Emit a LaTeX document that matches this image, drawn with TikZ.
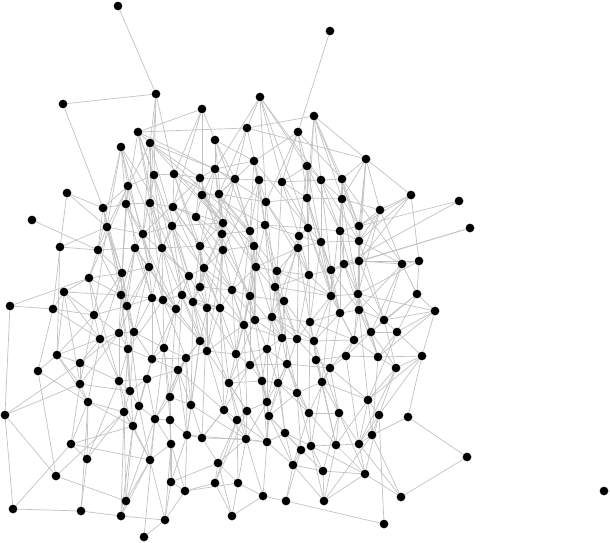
\documentclass[tikz,border=0pt]{standalone}
\usepackage{tikz}
\usetikzlibrary{backgrounds}

\begin{document}
\begin{tikzpicture}[%
  x=1pt, y=-1pt,
  vertex/.style={circle, fill=black, inner sep=0pt, minimum size=8.7pt},
  edge/.style={draw=black!24, line width=0.7pt},
]
  \useasboundingbox (0,0) rectangle (610,543);

  % vertices
  \foreach \n/\x/\y in {1/118/6, 2/330/31, 3/156/94, 4/63/104, 5/202/109, 6/260/97,
    7/314/116, 8/138/132, 9/247/128, 10/298/132, 11/150/143, 12/121/147, 13/215/140,
    14/366/159, 15/254/161, 16/307/166, 17/215/169, 18/154/175, 19/174/174, 20/200/178,
    21/235/179, 22/259/180, 23/282/182, 24/321/180, 25/342/179, 26/128/186, 27/67/193,
    28/103/208, 29/126/204, 30/150/203, 31/173/207, 32/196/217, 33/202/195, 34/219/194,
    35/266/202, 36/307/198, 37/342/199, 38/380/210, 39/32/220, 40/107/227, 41/143/234,
    42/172/226, 43/223/223, 44/222/234, 45/250/231, 46/265/225, 47/308/228, 48/299/236,
    49/340/231, 50/359/226, 51/321/242, 52/298/248, 53/359/241, 54/60/247, 55/98/250,
    56/135/248, 57/162/248, 58/200/246, 59/223/250, 60/254/246, 61/149/267, 62/122/273,
    63/189/276, 64/204/268, 65/89/278, 66/256/267, 67/277/271, 68/331/270, 69/309/275,
    70/344/264, 71/359/261, 72/402/264, 73/419/261, 74/411/195, 75/459/201, 76/470/228,
    77/200/287, 78/64/292, 79/121/295, 80/152/298, 81/163/300, 82/182/295, 83/193/302,
    84/232/290, 85/275/287, 86/250/296, 87/331/296, 88/358/294, 89/417/294, 90/284/301,
    91/127/306, 92/176/309, 93/10/306, 94/53/309, 95/94/315, 96/207/308, 97/220/308,
    98/340/313, 99/359/310, 100/435/311, 101/384/320, 102/244/325, 103/255/320,
    104/272/317, 105/310/322, 106/119/333, 107/134/332, 108/100/339, 109/200/341,
    110/371/332, 111/397/332, 112/282/338, 113/297/339, 114/314/341, 115/354/340,
    116/128/349, 117/164/348, 118/207/351, 119/236/354, 120/267/349, 121/57/355,
    122/152/359, 123/186/358, 124/316/360, 125/346/356, 126/378/357, 127/422/356,
    128/80/363, 129/38/371, 130/178/370, 131/119/381, 132/147/379, 133/80/384,
    134/130/391, 135/170/397, 136/88/402, 137/139/406, 138/191/405, 139/5/415,
    140/124/412, 141/155/419, 142/170/420, 143/133/426, 144/187/435, 145/202/438,
    146/171/444, 147/71/444, 148/87/459, 149/150/460, 150/56/476, 151/171/482,
    152/185/491, 153/126/501, 154/13/509, 155/81/511, 156/121/516, 157/165/520,
    158/144/537, 159/250/365, 160/287/364, 161/330/368, 162/396/368, 163/229/383,
    164/262/381, 165/278/383, 166/297/393, 167/322/382, 168/368/400, 169/267/402,
    170/224/410, 171/247/411, 172/237/420, 173/269/416, 174/309/413, 175/339/413,
    176/379/415, 177/246/439, 178/267/442, 179/285/433, 180/301/450, 181/311/446,
    182/336/445, 183/359/444, 184/372/435, 185/218/463, 186/293/465, 187/323/471,
    188/365/474, 189/215/483, 190/238/483, 191/263/496, 192/286/501, 193/324/501,
    194/401/497, 195/232/516, 196/384/524, 197/408/417, 198/467/457, 199/604/491}
    \node[vertex] (v\n) at (\x,\y) {};

  % edges
  \begin{scope}[on background layer]
  \foreach \a/\b in {1/3, 2/10, 3/4, 3/19, 3/18, 4/28, 5/8, 5/13, 5/31, 6/9, 6/16,
    6/17, 6/24, 7/9, 7/14, 7/24, 7/25, 7/37, 8/11, 8/21, 8/29, 8/18, 9/14, 9/21, 9/22,
    9/8, 10/15, 10/16, 10/23, 10/36, 11/20, 11/30, 11/43, 11/17, 12/26, 12/29, 12/42,
    12/40, 13/15, 13/17, 13/21, 14/38, 14/50, 14/74, 14/25, 15/17, 15/22, 15/34, 15/47,
    16/23, 16/24, 16/36, 16/48, 17/20, 17/33, 17/35, 18/19, 18/26, 18/30, 18/41, 19/20,
    19/31, 19/43, 19/46, 20/21, 20/32, 20/44, 21/22, 21/34, 21/45, 22/23, 22/35, 22/46,
    23/24, 23/47, 23/36, 24/25, 24/37, 24/49, 25/37, 25/50, 25/53,
    26/28, 26/29, 26/41, 26/56, 27/28, 27/40, 28/29, 28/40, 28/55, 29/30, 29/41, 29/62,
    30/31, 30/42, 30/57, 31/32, 31/43, 31/58, 32/33, 32/44, 32/59, 33/34, 33/43, 33/60,
    34/35, 34/45, 34/44, 35/36, 35/46, 35/52, 36/37, 36/47, 36/51, 37/38, 37/49, 37/50,
    38/50, 38/53, 38/72, 38/74, 39/55, 40/41, 40/55, 40/54, 40/62, 41/42, 41/56, 41/61,
    42/43, 42/57, 42/63, 43/44, 43/58, 44/45, 44/59, 44/64, 45/46, 45/60, 45/66, 46/47,
    46/48, 46/67, 47/48, 47/49, 47/51, 48/51, 48/52, 48/69, 49/50, 49/53, 49/70, 50/53,
    50/71, 51/52, 51/68, 51/53, 52/66, 52/69, 52/67, 53/71, 53/72, 54/55, 54/94, 54/121,
    55/56, 55/65, 55/62, 56/57, 56/61, 56/79, 57/58, 57/63, 57/80, 58/59, 58/64, 58/77,
    59/60, 59/84, 59/64, 60/66, 60/86,
    61/62, 61/80, 61/91, 62/65, 62/79, 62/91, 63/64, 63/82, 63/81, 64/77, 64/84, 65/78,
    65/95, 66/67, 66/86, 66/84, 67/85, 67/90, 67/69, 68/69, 68/70, 68/87, 68/76, 69/85,
    69/87, 70/71, 70/75, 70/88, 71/72, 71/88, 71/73, 72/73, 72/89, 72/101, 73/74, 73/89,
    74/50, 77/83, 77/96, 77/84, 78/79, 78/95, 78/94, 78/108, 79/80, 79/91, 79/106,
    80/81, 80/92, 80/91, 81/82, 81/92, 81/117, 82/83, 82/92, 83/96, 83/97, 83/109,
    84/86, 84/97, 84/102, 85/90, 85/87, 85/104, 86/90, 86/102, 86/103, 87/88, 87/98,
    87/105, 88/99, 88/101, 88/98, 89/100, 89/101, 90/104, 90/113, 91/107, 91/95,
    92/117, 92/109, 93/65, 93/139, 93/94, 94/95, 94/129, 95/108, 95/106, 96/97, 96/109,
    96/118, 97/102, 97/118, 98/99, 98/105, 98/115, 99/101, 99/110, 100/127, 100/111,
    100/101,
    101/110, 101/111, 102/103, 102/119, 102/112, 103/104, 103/120, 104/105, 104/112,
    104/113, 105/114, 105/113, 106/107, 106/116, 106/108, 107/116, 107/117, 108/116,
    108/128, 109/118, 109/123, 110/111, 110/115, 110/126, 111/127, 111/126, 112/113,
    112/120, 112/160, 113/114, 113/124, 114/115, 114/124, 115/125, 115/126, 116/122,
    116/131, 117/122, 117/123, 118/119, 118/123, 119/120, 119/159, 119/163, 120/159,
    120/160, 121/128, 121/129, 121/133, 122/123, 122/132, 122/130, 123/130, 123/138,
    124/125, 124/161, 124/167, 125/126, 125/161, 126/162, 126/127, 127/162, 127/197,
    128/133, 128/131, 129/150, 130/135, 130/138, 130/132, 131/132, 131/134, 131/140,
    132/134, 132/137, 133/136, 133/134, 134/137, 134/140, 135/141, 135/142, 135/138,
    136/140, 136/147, 136/143, 137/141, 137/143, 138/144, 138/145, 139/133, 139/150,
    139/154, 139/128, 140/143, 140/149, 141/142, 141/149, 142/144, 142/146, 143/153,
    143/149, 144/145, 144/151, 145/185, 145/170, 146/151, 146/149, 147/148, 147/154,
    147/149, 147/143, 148/155, 148/140, 149/157, 149/153, 150/153, 150/140, 151/152,
    151/157, 152/189, 152/157, 153/156, 154/155, 155/156, 155/136, 156/157, 156/140,
    157/158, 158/141,
    159/160, 159/163, 159/164, 160/161, 160/165, 160/166, 161/167, 161/168, 162/168,
    162/176, 163/164, 163/170, 163/171, 164/165, 164/169, 165/166, 165/173, 166/167,
    166/174, 166/173, 167/168, 167/175, 168/176, 168/184, 169/171, 169/173, 169/177,
    170/172, 170/145, 171/172, 171/177, 172/185, 172/178, 173/179, 173/178, 174/175,
    174/181, 175/182, 175/183, 176/183, 176/184, 176/196, 177/178, 177/190, 178/179,
    178/186, 179/180, 179/181, 180/181, 180/186, 181/182, 181/187, 182/183, 182/188,
    183/184, 183/188, 184/197, 184/193, 185/189, 185/190, 186/187, 186/192, 187/193,
    187/188, 188/194, 189/195, 190/191, 190/195, 191/192, 191/195, 192/196, 193/188,
    194/198, 197/198,
    12/61, 28/91, 40/79, 29/80, 56/106, 30/81, 57/92, 42/83, 44/96, 45/103, 46/85,
    48/90, 47/87, 49/88, 51/98, 53/99, 37/70, 36/68, 16/51, 22/59, 21/58, 13/43, 17/44,
    20/41, 11/26, 62/107, 79/116, 80/117, 81/109, 82/97, 84/119, 86/112, 90/114, 87/115,
    69/105, 85/113, 99/126, 105/124, 104/164, 103/163, 102/169, 97/170, 96/145, 109/144,
    117/142, 116/140, 107/134, 106/131, 95/133, 108/136, 91/137, 92/135, 83/138,
    113/166, 114/167, 115/161, 110/162, 120/165, 118/171, 123/141, 122/143, 131/148,
    130/170, 138/177, 144/178, 145/177, 146/152, 141/153, 135/151, 163/177, 164/178,
    165/179, 166/180, 167/181, 160/174, 161/175, 168/182, 174/186, 175/187, 171/189,
    172/190, 173/186, 177/191, 180/192, 181/193, 182/193, 183/194, 184/194, 59/86,
    60/85, 58/96, 63/92, 64/83, 66/90, 67/104, 68/98, 71/99, 72/110, 89/111, 70/87,
    88/110,
    8/57, 11/63, 18/82, 19/64, 26/62, 29/79, 30/61, 31/84, 33/66, 34/67, 35/85, 36/69,
    37/87, 24/51, 23/48, 50/99, 53/101, 38/88, 74/71, 42/102, 43/103, 45/119, 46/104,
    59/118, 57/109, 56/92, 61/106, 62/108, 65/131, 78/133, 79/134, 80/122, 81/123,
    82/130, 83/163, 84/164, 85/166, 86/159, 87/167, 88/126, 98/161, 99/168, 101/162,
    105/174, 112/169, 113/173, 114/175, 118/170, 119/177, 120/178, 123/144, 124/182,
    125/183, 126/184, 116/143, 117/141, 109/138, 97/163, 102/171, 103/173, 104/179,
    90/160, 67/112, 66/103, 60/102, 52/105, 51/87, 47/98, 48/113, 22/45, 21/44, 20/57,
    17/58, 15/46, 10/35, 9/34, 6/35, 7/36, 16/49, 25/49, 14/53,
    3/30, 3/11, 12/57, 8/42, 11/45, 13/45, 5/33, 5/19, 6/23, 6/47, 7/47, 7/50, 10/25,
    14/37, 14/71, 24/53, 25/72, 38/71, 74/53, 75/50, 76/71, 73/88, 72/99, 89/110,
    100/88, 100/126, 127/176, 127/168, 111/168, 26/65, 28/62, 40/95, 40/91, 27/54,
    41/81, 41/63, 42/82, 43/77, 44/97, 45/84, 46/86, 47/69, 48/85, 49/98, 50/88,
    51/105, 52/104, 53/88, 56/91, 57/81, 58/83, 59/97, 60/103, 61/107, 63/96, 64/97,
    66/104, 67/87, 68/99, 69/113, 70/99, 71/101, 79/107, 80/107, 81/116, 82/118,
    83/118, 84/103, 85/112, 86/119, 87/114, 88/115, 90/112, 92/122, 96/119, 97/119,
    98/114, 99/115, 102/118, 103/112, 104/114, 105/115, 106/128, 107/122, 108/131,
    109/130, 110/125, 29/92, 30/83, 31/97, 32/84, 33/86, 34/66, 35/69, 36/87, 37/88,
    18/57, 19/58, 20/59, 21/60, 22/66, 23/67, 24/68, 15/45, 16/47, 17/43, 12/55, 26/40,
    11/41, 8/30, 116/134, 117/135, 122/137, 123/135, 130/144, 132/141, 137/149,
    141/146, 142/151, 143/156, 144/152, 146/157, 149/156, 151/185, 152/190, 159/170,
    160/169, 161/174, 162/183, 163/172, 164/173, 165/174, 166/181, 167/182, 168/183,
    169/178, 170/177, 171/178, 173/180, 174/182, 175/188, 176/188, 178/191, 179/186,
    180/187, 181/188, 185/195, 186/193, 177/185, 172/189, 55/79, 65/79, 62/95, 61/92,
    56/80, 94/108, 78/121, 95/121, 106/133, 108/121, 121/136, 129/136, 133/147,
    136/148, 140/153, 131/143}
    \draw[edge] (v\a) -- (v\b);
  \end{scope}

\end{tikzpicture}
\end{document}
